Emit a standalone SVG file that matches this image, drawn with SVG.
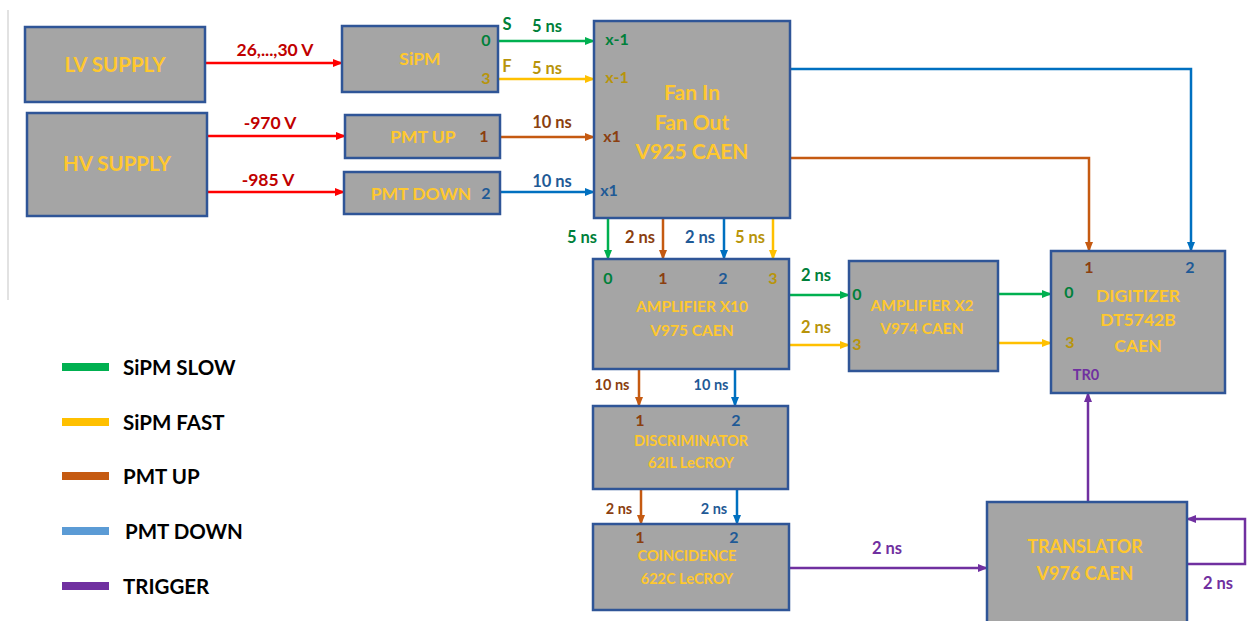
<svg xmlns="http://www.w3.org/2000/svg" width="1252" height="621" viewBox="0 0 1252 621">
<style>
.box{fill:#A5A5A5;stroke:#2F5597;stroke-width:2.5}
.t{font-family:Lato,"Liberation Sans",sans-serif;font-weight:bold;fill:#FFC82E;text-anchor:middle}
.p{font-family:Lato,"Liberation Sans",sans-serif;font-weight:bold;font-size:16px;text-anchor:middle}
.l{font-family:Lato,"Liberation Sans",sans-serif;font-weight:bold;font-size:16.5px;text-anchor:middle}
.lg{font-family:Lato,"Liberation Sans",sans-serif;font-weight:bold;font-size:20.5px;fill:#000}
.w{fill:none;stroke-width:2.5}
.red{stroke:#FF0000}.grn{stroke:#00B050}.yel{stroke:#FFC000}.brn{stroke:#C55A11}.blu{stroke:#0070C0}.pur{stroke:#7030A0}
.cr{fill:#C00000}.cg{fill:#00803A}.cy{fill:#B8940A}.cb{fill:#8B3F10}.cu{fill:#1F5A96}.cp{fill:#7030A0}
</style>
<defs>
<marker id="aR" markerUnits="userSpaceOnUse" markerWidth="10" markerHeight="10" refX="9" refY="5" orient="auto"><path d="M0,1 L10,5 L0,9 Z" fill="#FF0000"/></marker>
<marker id="aG" markerUnits="userSpaceOnUse" markerWidth="10" markerHeight="10" refX="9" refY="5" orient="auto"><path d="M0,1 L10,5 L0,9 Z" fill="#00B050"/></marker>
<marker id="aY" markerUnits="userSpaceOnUse" markerWidth="10" markerHeight="10" refX="9" refY="5" orient="auto"><path d="M0,1 L10,5 L0,9 Z" fill="#FFC000"/></marker>
<marker id="aB" markerUnits="userSpaceOnUse" markerWidth="10" markerHeight="10" refX="9" refY="5" orient="auto"><path d="M0,1 L10,5 L0,9 Z" fill="#C55A11"/></marker>
<marker id="aU" markerUnits="userSpaceOnUse" markerWidth="10" markerHeight="10" refX="9" refY="5" orient="auto"><path d="M0,1 L10,5 L0,9 Z" fill="#0070C0"/></marker>
<marker id="aP" markerUnits="userSpaceOnUse" markerWidth="10" markerHeight="10" refX="9" refY="5" orient="auto"><path d="M0,1 L10,5 L0,9 Z" fill="#7030A0"/></marker>
</defs>
<rect width="1252" height="621" fill="#fff"/>
<line x1="8" y1="10" x2="8" y2="300" stroke="#D9D9D9" stroke-width="1.5"/>

<g id="connectors">
<line class="w red" x1="205" y1="63" x2="342" y2="63" marker-end="url(#aR)"/>
<line class="w red" x1="207" y1="136" x2="345" y2="136" marker-end="url(#aR)"/>
<line class="w red" x1="207" y1="192" x2="344" y2="192" marker-end="url(#aR)"/>
<text class="l cr" x="275" y="56" style="font-size:17.5px">26,...,30 V</text>
<text class="l cr" x="270" y="129" style="font-size:17.5px">-970 V</text>
<text class="l cr" x="268" y="186" style="font-size:17.5px">-985 V</text>

<line class="w grn" x1="498" y1="41" x2="594" y2="41" marker-end="url(#aG)"/>
<line class="w yel" x1="498" y1="79" x2="594" y2="79" marker-end="url(#aY)"/>
<line class="w brn" x1="500" y1="137" x2="594" y2="137" marker-end="url(#aB)"/>
<line class="w blu" x1="500" y1="192" x2="594" y2="192" marker-end="url(#aU)"/>
<text class="l cg" x="507" y="30">S</text>
<text class="l cg" x="547" y="32">5 ns</text>
<text class="l cy" x="507" y="72">F</text>
<text class="l cy" x="547" y="74">5 ns</text>
<text class="l cb" x="552" y="128">10 ns</text>
<text class="l cu" x="552" y="187">10 ns</text>

<polyline class="w blu" points="790,69 1191,69 1191,251" marker-end="url(#aU)"/>
<polyline class="w brn" points="790,158 1089,158 1089,251" marker-end="url(#aB)"/>

<line class="w grn" x1="608" y1="218" x2="608" y2="259" marker-end="url(#aG)"/>
<line class="w brn" x1="663" y1="218" x2="663" y2="259" marker-end="url(#aB)"/>
<line class="w blu" x1="724" y1="218" x2="724" y2="259" marker-end="url(#aU)"/>
<line class="w yel" x1="773" y1="218" x2="773" y2="259" marker-end="url(#aY)"/>
<text class="l cg" x="582" y="243">5 ns</text>
<text class="l cb" x="640" y="243">2 ns</text>
<text class="l cu" x="700" y="243">2 ns</text>
<text class="l cy" x="750" y="243">5 ns</text>

<line class="w grn" x1="789" y1="295" x2="849" y2="295" marker-end="url(#aG)"/>
<line class="w yel" x1="789" y1="345" x2="849" y2="345" marker-end="url(#aY)"/>
<text class="l cg" x="816" y="281">2 ns</text>
<text class="l cy" x="816" y="333">2 ns</text>
<line class="w grn" x1="998" y1="294" x2="1051" y2="294" marker-end="url(#aG)"/>
<line class="w yel" x1="998" y1="343" x2="1051" y2="343" marker-end="url(#aY)"/>

<line class="w brn" x1="639" y1="369" x2="639" y2="406" marker-end="url(#aB)"/>
<line class="w blu" x1="735" y1="369" x2="735" y2="406" marker-end="url(#aU)"/>
<text class="l cb" x="612" y="390" style="font-size:14.5px">10 ns</text>
<text class="l cu" x="711" y="390" style="font-size:14.5px">10 ns</text>

<line class="w brn" x1="641" y1="489" x2="641" y2="524" marker-end="url(#aB)"/>
<line class="w blu" x1="737" y1="489" x2="737" y2="524" marker-end="url(#aU)"/>
<text class="l cb" x="619" y="514" style="font-size:14.5px">2 ns</text>
<text class="l cu" x="714" y="514" style="font-size:14.5px">2 ns</text>

<line class="w pur" x1="789" y1="568" x2="987" y2="568" marker-end="url(#aP)"/>
<text class="l cp" x="887" y="554">2 ns</text>
<line class="w pur" x1="1088" y1="502" x2="1088" y2="393" marker-end="url(#aP)"/>
<polyline class="w pur" points="1187,564 1245,564 1245,519 1187,519" marker-end="url(#aP)"/>
<text class="l cp" x="1218" y="589">2 ns</text>
</g>

<g id="lv"><rect class="box" x="25" y="27" width="180" height="75"/><text class="t" x="115" y="72" font-size="20.5">LV SUPPLY</text></g>
<g id="hv"><rect class="box" x="27" y="113" width="180" height="103"/><text class="t" x="117" y="171" font-size="20.5">HV SUPPLY</text></g>
<g id="sipm"><rect class="box" x="342" y="26" width="156" height="66"/><text class="t" x="420" y="65" font-size="17.5">SiPM</text>
<text class="p cg" x="486" y="46">0</text><text class="p cy" x="486" y="84">3</text></g>
<g id="pmtup"><rect class="box" x="345" y="115" width="155" height="43"/><text class="t" x="423" y="143" font-size="17.5">PMT UP</text>
<text class="p cb" x="484" y="142">1</text></g>
<g id="pmtdown"><rect class="box" x="344" y="172" width="156" height="42"/><text class="t" x="421" y="200" font-size="17.5">PMT DOWN</text>
<text class="p cu" x="486" y="199">2</text></g>
<g id="fan"><rect class="box" x="594" y="21" width="196" height="197"/>
<text class="t" x="692" y="100" font-size="21">Fan In</text><text class="t" x="692" y="130" font-size="21">Fan Out</text><text class="t" x="692" y="159" font-size="21">V925 CAEN</text>
<text class="p cg" x="617" y="45">x-1</text><text class="p cy" x="617" y="83">x-1</text><text class="p cb" x="612" y="142">x1</text><text class="p cu" x="609" y="196">x1</text></g>
<g id="amp10"><rect class="box" x="593" y="259" width="196" height="110"/>
<text class="p cg" x="608" y="284">0</text><text class="p cb" x="663" y="284">1</text><text class="p cu" x="723" y="284">2</text><text class="p cy" x="773" y="284">3</text>
<text class="t" x="692" y="312" font-size="15.5">AMPLIFIER X10</text><text class="t" x="692" y="336" font-size="15.5">V975 CAEN</text></g>
<g id="amp2"><rect class="box" x="849" y="261" width="149" height="110"/>
<text class="p cg" x="857" y="300">0</text><text class="p cy" x="857" y="350">3</text>
<text class="t" x="922" y="311" font-size="15.5">AMPLIFIER X2</text><text class="t" x="922" y="334" font-size="15.5">V974 CAEN</text></g>
<g id="digitizer"><rect class="box" x="1051" y="251" width="174" height="142"/>
<text class="p cb" x="1089" y="273">1</text><text class="p cu" x="1190" y="273">2</text><text class="p cg" x="1069" y="298">0</text><text class="p cy" x="1070" y="348">3</text>
<text class="p cp" x="1086" y="380" style="font-size:14.5px">TR0</text>
<text class="t" x="1138" y="302" font-size="17.5">DIGITIZER</text><text class="t" x="1138" y="326" font-size="17.5">DT5742B</text><text class="t" x="1138" y="352" font-size="17.5">CAEN</text></g>
<g id="disc"><rect class="box" x="593" y="406" width="195" height="83"/>
<text class="p cb" x="640" y="426">1</text><text class="p cu" x="736" y="426">2</text>
<text class="t" x="691" y="446" font-size="14.5">DISCRIMINATOR</text><text class="t" x="691" y="468" font-size="14.5">62IL LeCROY</text></g>
<g id="coinc"><rect class="box" x="593" y="524" width="196" height="86"/>
<text class="p cb" x="640" y="543">1</text><text class="p cu" x="734" y="543">2</text>
<text class="t" x="687" y="561" font-size="14.5">COINCIDENCE</text><text class="t" x="687" y="584" font-size="14.5">622C LeCROY</text></g>
<g id="translator"><rect class="box" x="987" y="502" width="200" height="130"/>
<text class="t" x="1085" y="553" font-size="18">TRANSLATOR</text><text class="t" x="1085" y="580" font-size="18">V976 CAEN</text></g>

<g id="legend">
<rect x="62" y="363" width="47" height="8" fill="#00B050"/><text class="lg" x="123" y="375">SiPM SLOW</text>
<rect x="62" y="418" width="47" height="8" fill="#FFC000"/><text class="lg" x="123" y="430">SiPM FAST</text>
<rect x="62" y="472" width="47" height="8" fill="#C55A11"/><text class="lg" x="123" y="484">PMT UP</text>
<rect x="62" y="527" width="47" height="8" fill="#5B9BD5"/><text class="lg" x="125" y="539">PMT DOWN</text>
<rect x="62" y="582" width="47" height="8" fill="#7030A0"/><text class="lg" x="123" y="594">TRIGGER</text>
</g>
</svg>
